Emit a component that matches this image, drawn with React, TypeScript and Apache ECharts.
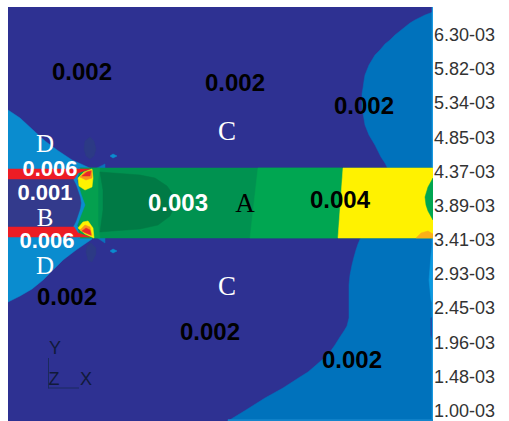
import React, { useEffect, useRef } from "react";
import * as echarts from "echarts";

type P = [number, number];

const legendLabels = ["6.30-03","5.82-03","5.34-03","4.85-03","4.37-03","3.89-03","3.41-03","2.93-03","2.45-03","1.96-03","1.48-03","1.00-03"];

const background: P[] = [[8,7],[433,7],[433,421],[8,421]];
const rightUpperBlue: P[] = [[433,12],[425,15],[415,20],[410,23],[405,27],[400,31],[395,35],[390,40],[385,44],[380,50],[375,55],[372,60],[369,65],[367,70],[365,75],[364,81],[363,88],[362,94],[362,100],[362,107],[363,113],[364,119],[365,125],[367,130],[369,135],[372,140],[375,145],[378,151],[381,157],[385,163],[388,169],[433,169]];
const rightLowerBlue: P[] = [[361,237],[358,244],[356,250],[354,257],[352,265],[350,275],[349,285],[349,298],[349,310],[349,318],[347,326],[344,331],[340,337],[335,345],[330,352],[323,359],[315,366],[308,372],[300,377],[283,388],[265,398],[246,410],[228,421],[433,421],[433,237]];
const rightEdgeLight: P[] = [[433,240],[431,255],[429,280],[431,300],[433,304]];
const rightEdgeDark: P[] = [[433,316],[431,318],[431,335],[433,342]];
const edgeRight: P[] = [[432,7],[433.5,7],[433.5,421],[432,421]];
const edgeBottom: P[] = [[228,419.5],[433,419.5],[433,421],[228,421]];
const leftUpperBlue: P[] = [[8,110],[20,118],[33,130],[45,141],[57,150],[72,160],[92,169],[92,180],[8,180]];
const leftLowerBlue: P[] = [[8,302],[20,296],[32,289],[43,280],[53,270],[63,260],[76,250],[92,239],[92,226],[8,226]];
const blueNubUpper: P[] = [[95,169],[105,164],[105,169]];
const blueNubLower: P[] = [[96,237],[105,237],[105,243]];
const bandDarkGreen: P[] = [[78,168],[433,168],[433,238],[78,238]];
const bandMidGreen: P[] = [[258,168],[343,168],[338,238],[250,238]];
const bandYellow: P[] = [[343,168],[433,168],[433,238],[338,238]];
const bandEndGreen: P[] = [[433,178],[428,187],[425,197],[426,205],[428,211],[433,220]];
const bandOrange: P[] = [[416,238],[421,233],[428,231],[433,234],[433,238]];
const bandLightLeft: P[] = [[80,168],[100,168],[98,180],[98,225],[100,238],[80,238]];
const coreGreen: P[] = [[100,172],[140,175],[155,178],[167,186],[174,196],[175,205],[170,216],[158,225],[140,229],[112,231],[100,232],[103,210],[103,190]];
const notchBlue: P[] = [[72,168],[80,168],[77,180],[81,194],[85,205],[81,215],[77,226],[80,238],[72,238]];
const insetB: P[] = [[8,179],[73,179],[76,185],[78,191],[80,197],[81,203],[80,209],[78,215],[76,221],[73,227],[8,227]];
const redUpper: P[] = [[8,169],[90,169],[78,173],[74,179],[8,179]];
const redLower: P[] = [[8,227],[74,227],[78,233],[90,237],[8,237]];
const lobeUpperYellow: P[] = [[78,178],[84,172],[92,169],[93,178],[92,187],[85,190],[79,186]];
const lobeLowerYellow: P[] = [[78,228],[83,222],[88,221],[93,228],[94,238],[85,234]];
const lobeUpperOrange: P[] = [[80,177],[85,172],[92,170],[92,178],[86,180]];
const lobeLowerOrange: P[] = [[80,230],[85,225],[90,227],[92,236],[85,233]];
const lobeUpperRed: P[] = [[82,176],[87,172],[91,171],[90,176]];
const lobeLowerRed: P[] = [[82,231],[86,228],[90,230],[91,235],[86,233]];
const darkBlobUpper: P[] = [[90,137],[94,141],[96,149],[94,156],[90,159],[86,156],[84,149],[85,141]];
const darkBlobLower: P[] = [[91,243],[96,248],[96,254],[92,262],[88,260],[86,252],[87,246]];
const dotUpper: P[] = [[110,156],[113,154],[117,156],[113,158]];
const dotLower: P[] = [[110,251],[113,249],[117,251],[113,253]];

const regions: [P[], string][] = [
  [background, "#2e3192"],
  [rightUpperBlue, "#0072bc"],
  [rightLowerBlue, "#0072bc"],
  [rightEdgeLight, "#0a9be0"],
  [rightEdgeDark, "#2e3192"],
  [edgeRight, "#1b9be0"],
  [edgeBottom, "#1585cc"],
  [leftUpperBlue, "#0a8ccf"],
  [leftLowerBlue, "#0a8ccf"],
  [blueNubUpper, "#0a72bc"],
  [blueNubLower, "#0a72bc"],
  [darkBlobUpper, "#2c3a85"],
  [darkBlobLower, "#2c3a85"],
  [dotUpper, "#0a8ccf"],
  [dotLower, "#0a8ccf"],
  [bandDarkGreen, "#009250"],
  [bandMidGreen, "#00a651"],
  [bandYellow, "#fff200"],
  [bandEndGreen, "#00a651"],
  [bandOrange, "#fbb017"],
  [bandLightLeft, "#04a04f"],
  [coreGreen, "#007a45"],
  [notchBlue, "#0a8ccf"],
  [insetB, "#333a8c"],
  [redUpper, "#ed1c24"],
  [redLower, "#ed1c24"],
  [lobeUpperYellow, "#fff200"],
  [lobeLowerYellow, "#fff200"],
  [lobeUpperOrange, "#f7941d"],
  [lobeLowerOrange, "#f7941d"],
  [lobeUpperRed, "#e8262a"],
  [lobeLowerRed, "#e8262a"],
];

const valueNotes: [string, number, number, string][] = [
  ["0.002", 82, 71.5, "#000"], ["0.002", 235, 82.5, "#000"], ["0.002", 364, 105.5, "#000"],
  ["0.002", 67, 296.5, "#000"], ["0.002", 210, 331.5, "#000"], ["0.002", 352, 359.5, "#000"],
  ["0.004", 340, 199.5, "#000"], ["0.003", 178, 202.5, "#fff"],
];
const leftValueNotes: [string, number, number, string][] = [
  ["0.006", 50, 168, "#fff"], ["0.001", 45, 192.5, "#fff"], ["0.006", 47, 240.5, "#fff"],
];
const leftZoneNotes: [string, number, number, string][] = [
  ["D", 45, 143, "#fff"], ["B", 45, 217, "#fff"], ["D", 45, 265, "#fff"],
];
const zoneNotes: [string, number, number, string][] = [
  ["C", 227, 131, "#fff"], ["C", 227, 286, "#fff"], ["A", 245, 203, "#000"],
];
const triadNotes: [string, number, number][] = [["Y", 55, 348], ["Z", 54, 379], ["X", 86, 379]];
const triadLines: P[][] = [[[48.5, 358], [48.5, 388.5]], [[48.5, 388], [79, 388]]];

export default function App() {
  const ref = useRef<HTMLDivElement>(null);
  useEffect(() => {
    const chart = echarts.init(ref.current!, undefined, { renderer: "svg" });
    const text = (s: string, x: number, y: number, fill: string, font: string) => ({
      type: "text", x, y, silent: true, z: 50,
      style: { text: s, fill, font, align: "center", verticalAlign: "middle" },
    });
    chart.setOption({
      animation: false,
      backgroundColor: "#fff",
      grid: [
        { left: 8, top: 7, width: 425, height: 414 },
        { left: 433, top: 35, width: 1, height: 376 },
      ],
      xAxis: [
        { gridIndex: 0, type: "value", min: 8, max: 433, show: false },
        { gridIndex: 1, type: "value", min: 0, max: 1, show: false },
      ],
      yAxis: [
        { gridIndex: 0, type: "value", min: 7, max: 421, inverse: true, show: false },
        {
          gridIndex: 1, type: "category", position: "left", data: legendLabels, inverse: true, boundaryGap: false,
          axisLine: { show: false }, axisTick: { show: false }, splitLine: { show: false },
          axisLabel: { inside: true, margin: 1, interval: 0, color: "#333", fontSize: 18, fontFamily: "Liberation Sans", align: "left" },
        },
      ],
      series: [
        {
          type: "custom", xAxisIndex: 0, yAxisIndex: 0, silent: true, clip: true,
          data: regions.map((_, i) => [i]),
          renderItem: (_p: any, api: any) => {
            const [pts, color] = regions[api.value(0)];
            return {
              type: "polygon",
              shape: { points: pts.map((q) => api.coord(q)) },
              style: { fill: color, stroke: color, lineWidth: 0.5 },
            };
          },
        },
        {
          type: "custom", xAxisIndex: 0, yAxisIndex: 0, silent: true,
          data: triadLines.map((_, i) => [i]),
          renderItem: (_p: any, api: any) => {
            const pts = triadLines[api.value(0)];
            return {
              type: "polyline",
              shape: { points: pts.map((q) => api.coord(q)) },
              style: { stroke: "#1a2a5e", fill: "none", lineWidth: 1 },
            };
          },
        },
        { type: "line", xAxisIndex: 1, yAxisIndex: 1, data: [], showSymbol: false },
      ],
      graphic: {
        elements: [
          ...valueNotes.map(([s, x, y, c]) => text(s, x, y, c, "bold 24px 'Liberation Sans'")),
          ...leftValueNotes.map(([s, x, y, c]) => text(s, x, y, c, "bold 22px 'Liberation Sans'")),
          ...leftZoneNotes.map(([s, x, y, c]) => text(s, x, y, c, "25px 'Liberation Serif'")),
          ...zoneNotes.map(([s, x, y, c]) => text(s, x, y, c, "27px 'Liberation Serif'")),
          ...triadNotes.map(([s, x, y]) => text(s, x, y, "#111a3a", "18px 'Liberation Sans'")),
        ],
      },
    });
    return () => chart.dispose();
  }, []);
  return <div ref={ref} style={{ position: "absolute", left: 0, top: 0, width: 509, height: 421 }} />;
}
